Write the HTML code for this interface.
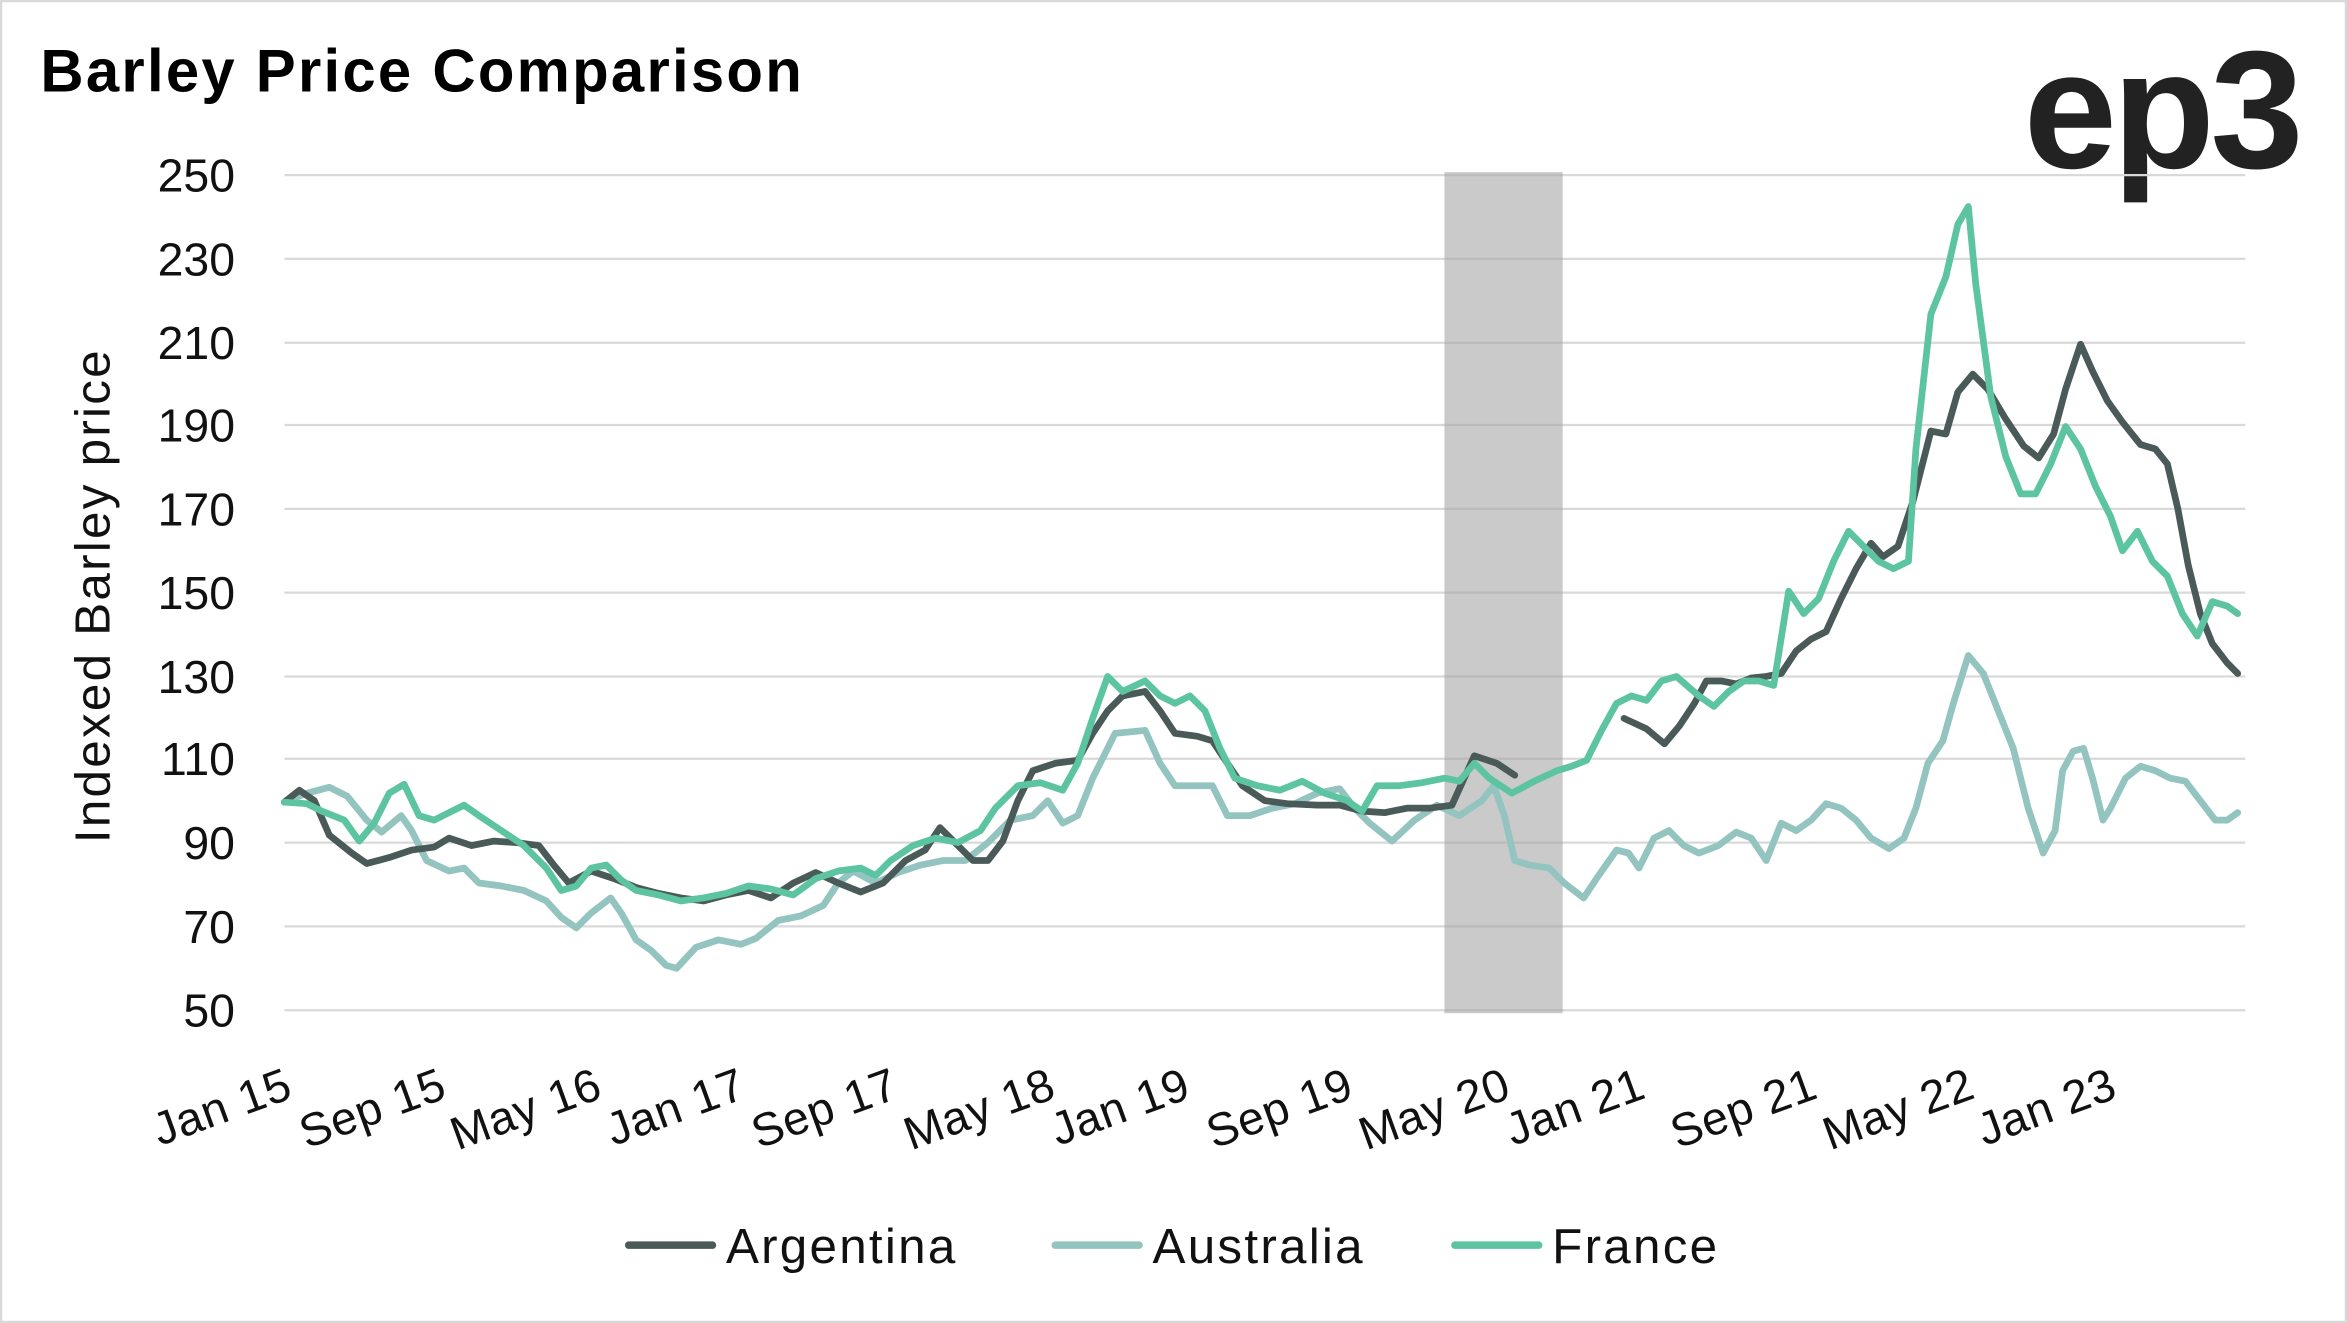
<!DOCTYPE html>
<html><head><meta charset="utf-8"><style>html,body{margin:0;padding:0;background:#fff}svg{display:block}</style></head><body>
<svg width="2347" height="1323" viewBox="0 0 1568 884" preserveAspectRatio="none" xmlns="http://www.w3.org/2000/svg" font-family="Liberation Sans, sans-serif">
<rect x="0" y="0" width="1568" height="884" fill="#fff" stroke="#d9d9d9" stroke-width="3"/>
<text x="27" y="61" font-size="40" font-weight="bold" fill="#000" letter-spacing="1.5">Barley Price Comparison</text>
<text x="1536" y="112" font-size="112" font-weight="bold" fill="#222" text-anchor="end" letter-spacing="-3">ep3</text>
<g stroke="#d9d9d9" stroke-width="1.5">
<line x1="190" x2="1500" y1="117" y2="117"/><line x1="190" x2="1500" y1="173" y2="173"/><line x1="190" x2="1500" y1="229" y2="229"/><line x1="190" x2="1500" y1="284" y2="284"/><line x1="190" x2="1500" y1="340" y2="340"/><line x1="190" x2="1500" y1="396" y2="396"/><line x1="190" x2="1500" y1="452" y2="452"/><line x1="190" x2="1500" y1="507" y2="507"/><line x1="190" x2="1500" y1="563" y2="563"/><line x1="190" x2="1500" y1="619" y2="619"/><line x1="190" x2="1500" y1="675" y2="675"/>
</g>
<rect x="965" y="115" width="79" height="562" fill="#a6a6a6" opacity="0.6"/>
<g font-size="31" fill="#111" text-anchor="end">
<text x="157" y="128">250</text><text x="157" y="184">230</text><text x="157" y="240">210</text><text x="157" y="295">190</text><text x="157" y="351">170</text><text x="157" y="407">150</text><text x="157" y="463">130</text><text x="157" y="518">110</text><text x="157" y="574">90</text><text x="157" y="630">70</text><text x="157" y="686">50</text>
</g>
<text transform="translate(73,398) rotate(-90)" font-size="33" fill="#111" text-anchor="middle" letter-spacing="1.5">Indexed Barley price</text>
<g font-size="31" fill="#111" text-anchor="end" letter-spacing="0.5">
<text transform="translate(197,733) rotate(-20)">Jan 15</text>
<text transform="translate(300,733) rotate(-20)">Sep 15</text>
<text transform="translate(404,733) rotate(-20)">May 16</text>
<text transform="translate(500,733) rotate(-20)">Jan 17</text>
<text transform="translate(602,733) rotate(-20)">Sep 17</text>
<text transform="translate(707,733) rotate(-20)">May 18</text>
<text transform="translate(797,733) rotate(-20)">Jan 19</text>
<text transform="translate(906,733) rotate(-20)">Sep 19</text>
<text transform="translate(1011,733) rotate(-20)">May 20</text>
<text transform="translate(1101,733) rotate(-20)">Jan 21</text>
<text transform="translate(1216,733) rotate(-20)">Sep 21</text>
<text transform="translate(1321,733) rotate(-20)">May 22</text>
<text transform="translate(1416,733) rotate(-20)">Jan 23</text>
</g>
<g fill="none" stroke-width="4.5" stroke-linejoin="round" stroke-linecap="round">
<polyline stroke="#93c4c0" points="190,536 205,530 220,526 232,532 245,548 255,556 268,545 275,555 285,575 300,582 310,580 320,590 335,592 350,595 365,602 375,613 385,620 395,610 408,600 415,610 425,628 435,635 445,645 452,647 465,633 480,628 495,631 505,627 520,615 535,612 550,605 560,590 570,582 585,590 600,583 615,578 630,575 645,575 660,563 675,548 690,545 700,535 710,550 720,545 730,520 745,490 765,488 775,510 785,525 800,525 810,525 820,545 835,545 850,540 865,537 880,530 895,527 905,540 915,550 930,562 945,548 960,538 975,545 990,535 998,525 1005,545 1012,575 1022,578 1035,580 1045,590 1058,600 1068,585 1080,568 1088,570 1095,580 1105,560 1115,555 1125,565 1135,570 1148,565 1160,556 1170,560 1180,575 1190,550 1200,555 1210,548 1220,537 1230,540 1240,548 1250,560 1262,567 1272,560 1280,540 1288,510 1298,495 1305,470 1315,438 1325,450 1335,475 1345,500 1355,540 1365,570 1373,555 1378,515 1385,502 1392,500 1398,520 1405,548 1410,540 1420,520 1430,512 1440,515 1450,520 1460,522 1470,535 1480,548 1488,548 1495,543"/>
<polyline stroke="#4a5a58" points="190,536 200,528 210,535 220,558 235,570 245,577 260,573 275,568 290,566 300,560 315,565 330,562 345,563 360,565 370,578 380,590 395,582 410,587 425,593 440,597 455,600 470,602 485,598 500,595 515,600 530,590 545,583 560,590 575,596 590,590 605,575 618,568 628,553 638,563 650,575 660,575 670,562 680,535 690,515 705,510 720,508 730,490 740,475 750,465 765,462 775,475 785,490 800,492 810,495 820,510 830,525 845,535 860,537 880,538 895,538 910,542 925,543 940,540 955,540 970,538 985,505 1000,510 1012,518"/>
<polyline stroke="#4a5a58" points="1085,480 1100,487 1112,497 1122,485 1132,470 1140,455 1150,455 1160,457 1170,453 1180,452 1190,450 1200,435 1210,427 1220,422 1230,400 1240,380 1250,363 1258,372 1268,365 1278,335 1290,288 1300,290 1308,262 1318,250 1328,260 1340,280 1352,298 1362,306 1372,290 1380,260 1390,230 1398,248 1408,268 1418,282 1430,297 1440,300 1448,310 1455,340 1462,378 1470,410 1478,430 1488,443 1495,450"/>
<polyline stroke="#5cc4a0" points="190,536 205,537 215,542 230,548 240,562 250,550 260,530 270,524 280,545 290,548 300,543 310,538 320,545 335,555 350,565 365,580 375,595 385,592 395,580 405,578 415,588 425,595 440,598 455,602 470,600 485,597 500,592 515,594 530,598 545,587 560,582 575,580 585,585 595,575 610,565 625,560 640,563 655,555 665,540 680,525 695,523 710,528 720,510 730,480 740,452 750,462 765,455 775,465 785,470 795,465 805,475 815,500 825,520 840,525 855,528 870,522 885,530 900,535 910,542 920,525 935,525 950,523 965,520 975,522 985,510 995,520 1010,530 1025,522 1040,515 1050,512 1060,508 1070,488 1080,470 1090,465 1100,468 1110,455 1120,452 1135,465 1145,472 1155,462 1165,455 1175,455 1185,458 1195,395 1205,410 1215,400 1225,375 1235,355 1245,365 1255,375 1265,380 1275,375 1280,300 1290,210 1300,185 1308,150 1315,138 1320,190 1330,265 1340,305 1350,330 1360,330 1370,310 1380,285 1390,300 1400,325 1410,345 1418,368 1428,355 1438,375 1448,385 1458,410 1468,425 1478,402 1488,405 1495,410"/>
</g>
<g stroke-width="5" stroke-linecap="round">
<line x1="420" y1="832" x2="476" y2="832" stroke="#4a5a58"/>
<line x1="705" y1="832" x2="761" y2="832" stroke="#93c4c0"/>
<line x1="972" y1="832" x2="1028" y2="832" stroke="#5cc4a0"/>
</g>
<g font-size="33" fill="#111" letter-spacing="1.5">
<text x="485" y="844">Argentina</text><text x="770" y="844">Australia</text><text x="1037" y="844">France</text>
</g>
</svg>
</body></html>
